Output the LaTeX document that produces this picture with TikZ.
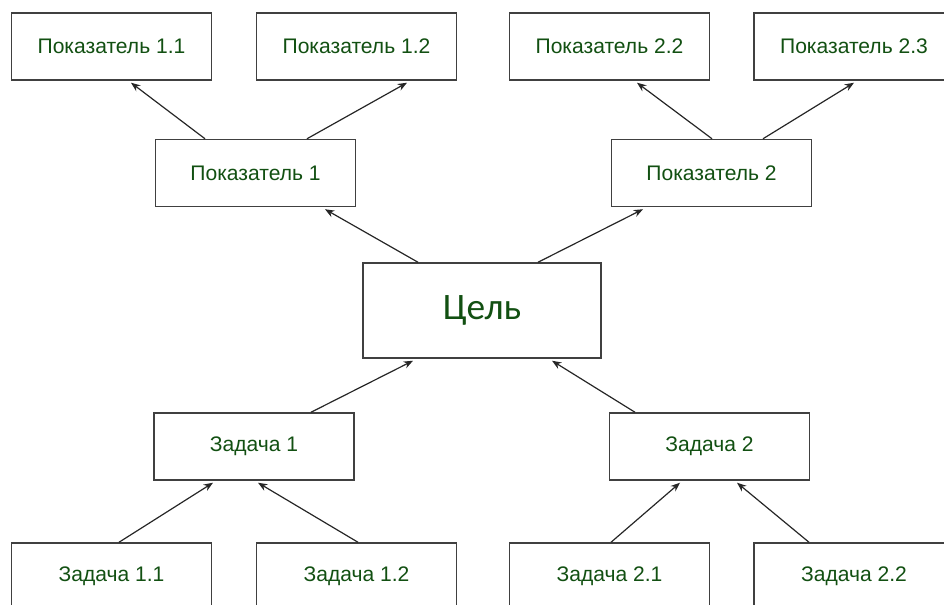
\documentclass[tikz,border=0pt]{standalone}
\usepackage{fontspec}
\setmainfont{Liberation Sans}
\newfontfamily\goalfont{Carlito}
\usepackage{tikz}
\usetikzlibrary{arrows.meta,calc}
\definecolor{labelgreen}{RGB}{18,80,18}

\begin{document}
\begin{tikzpicture}[x=0.75pt,y=-0.75pt,
  box/.style={draw=black!75, line width=1.1pt, fill=white, minimum width=150pt, minimum height=50.25pt, inner sep=0pt, text=labelgreen, font=\fontsize{15.8}{18}\selectfont},
  goalbox/.style={box, minimum width=178.5pt, minimum height=71.25pt, font=\goalfont\fontsize{28}{32}\selectfont},
  link/.style={draw=black!85, line width=0.9pt, -{Stealth[length=7pt,width=5.5pt]}}]
\useasboundingbox (0,0) rectangle (944,605);
\node[box] (p11) at (111.5,46.5) {Показатель 1.1};
\node[box] (p12) at (356.5,46.5) {Показатель 1.2};
\node[box] (p22) at (609.5,46.5) {Показатель 2.2};
\node[box] (p23) at (854,46.5) {Показатель 2.3};
\node[box] (p1) at (255.5,173) {Показатель 1};
\node[box] (p2) at (711.5,173) {Показатель 2};
\node[goalbox] (goal) at (482,310.5) {Цель};
\node[box] (z1) at (254,446.5) {Задача 1};
\node[box] (z2) at (709.5,446.5) {Задача 2};
\node[box] (z11) at (111.5,576.5) {Задача 1.1};
\node[box] (z12) at (356.5,576.5) {Задача 1.2};
\node[box] (z21) at (609.5,576.5) {Задача 2.1};
\node[box] (z22) at (854,576.5) {Задача 2.2};
\draw[link] ($(p1.north)+(-50.5,0)$) -- ($(p11.south)+(19.5,2)$);
\draw[link] ($(p1.north)+(51.5,0)$) -- ($(p12.south)+(50.5,2)$);
\draw[link] ($(p2.north)+(0.5,0)$) -- ($(p22.south)+(27.5,2)$);
\draw[link] ($(p2.north)+(51.5,0)$) -- ($(p23.south)+(0,2)$);
\draw[link] ($(goal.north)+(-64,0)$) -- ($(p1.south)+(69.5,2)$);
\draw[link] ($(goal.north)+(56,0)$) -- ($(p2.south)+(-68.5,2)$);
\draw[link] ($(z1.north)+(57,0)$) -- ($(goal.south)+(-69,2)$);
\draw[link] ($(z2.north)+(-74.5,0)$) -- ($(goal.south)+(70,2)$);
\draw[link] ($(z11.north)+(7.5,0)$) -- ($(z1.south)+(-41,2)$);
\draw[link] ($(z12.north)+(1.5,0)$) -- ($(z1.south)+(4,2)$);
\draw[link] ($(z21.north)+(1.5,0)$) -- ($(z2.south)+(-29.5,2)$);
\draw[link] ($(z22.north)+(-45,0)$) -- ($(z2.south)+(27.5,2)$);
\end{tikzpicture}
\end{document}
